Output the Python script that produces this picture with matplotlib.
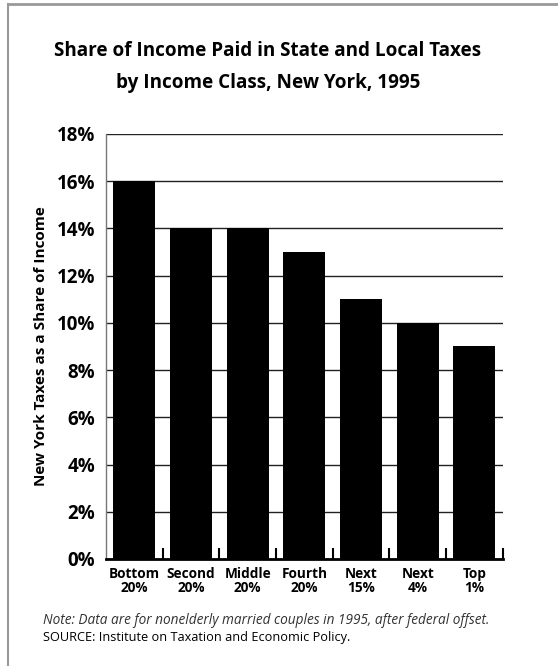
import matplotlib.pyplot as plt
from matplotlib.lines import Line2D
from matplotlib.ticker import FixedLocator

# data
classes = ["Bottom\n20%", "Second\n20%", "Middle\n20%", "Fourth\n20%",
           "Next\n15%", "Next\n4%", "Top\n1%"]
tax_share = [16, 14, 14, 13, 11, 10, 9]
y_ticks = [0, 2, 4, 6, 8, 10, 12, 14, 16, 18]

plt.rcParams['font.family'] = ['Open Sans', 'DejaVu Sans']

fig = plt.figure(figsize=(5.58, 6.66), dpi=100)
ax = fig.add_axes([0.19, 0.1607, 0.711, 0.6381])

x = range(len(classes))
ax.bar(x, tax_share, width=0.74, color='black', zorder=2)

ax.set_xlim(-0.5, len(classes) - 0.5)
ax.set_ylim(0, 18)
ax.set_yticks(y_ticks)
ax.set_yticklabels([f"{v}%" for v in y_ticks], fontsize=13.5, fontweight='bold')
ax.tick_params(axis='y', length=0, pad=8)
ax.yaxis.grid(True, color='#222222', linewidth=1.0, zorder=1)

# category labels as minor ticks, boundary tick marks as major ticks
ax.xaxis.set_major_locator(FixedLocator([i + 0.5 for i in range(len(classes))]))
ax.xaxis.set_major_formatter(plt.NullFormatter())
ax.tick_params(axis='x', which='major', direction='in', length=8, width=1.5, color='black')
ax.set_xticks(list(x), minor=True)
ax.set_xticklabels(classes, minor=True, fontsize=9.8, fontweight='bold', linespacing=1.0)
ax.tick_params(axis='x', which='minor', length=0, pad=6)

ax.spines['top'].set_visible(False)
ax.spines['right'].set_visible(False)
ax.spines['left'].set_color('#777777')
ax.spines['left'].set_linewidth(1.0)
ax.spines['bottom'].set_color('black')
ax.spines['bottom'].set_linewidth(2.0)

ax.set_ylabel("New York Taxes as a Share of Income", fontsize=11, fontweight='bold', labelpad=6)

fig.text(0.48, 0.9, "Share of Income Paid in State and Local Taxes\nby Income Class, New York, 1995",
         ha='center', va='center', fontsize=13.6, fontweight='bold', linespacing=1.8)

fig.text(43 / 558, 1 - 620 / 666, "Note: Data are for nonelderly married couples in 1995, after federal offset.",
         ha='left', va='center', fontsize=9.8, style='italic', color='#333333')
fig.text(43 / 558, 1 - 638 / 666, "SOURCE: Institute on Taxation and Economic Policy.",
         ha='left', va='center', fontsize=9.2)

# open frame around the figure (top and left edges only)
fig.add_artist(Line2D([8 / 558, 1], [1 - 4 / 666, 1 - 4 / 666], color='#999999', linewidth=2,
                      transform=fig.transFigure))
fig.add_artist(Line2D([8 / 558, 8 / 558], [0, 1 - 4 / 666], color='#999999', linewidth=1.5,
                      transform=fig.transFigure))

fig.savefig("out.png", dpi=100)
